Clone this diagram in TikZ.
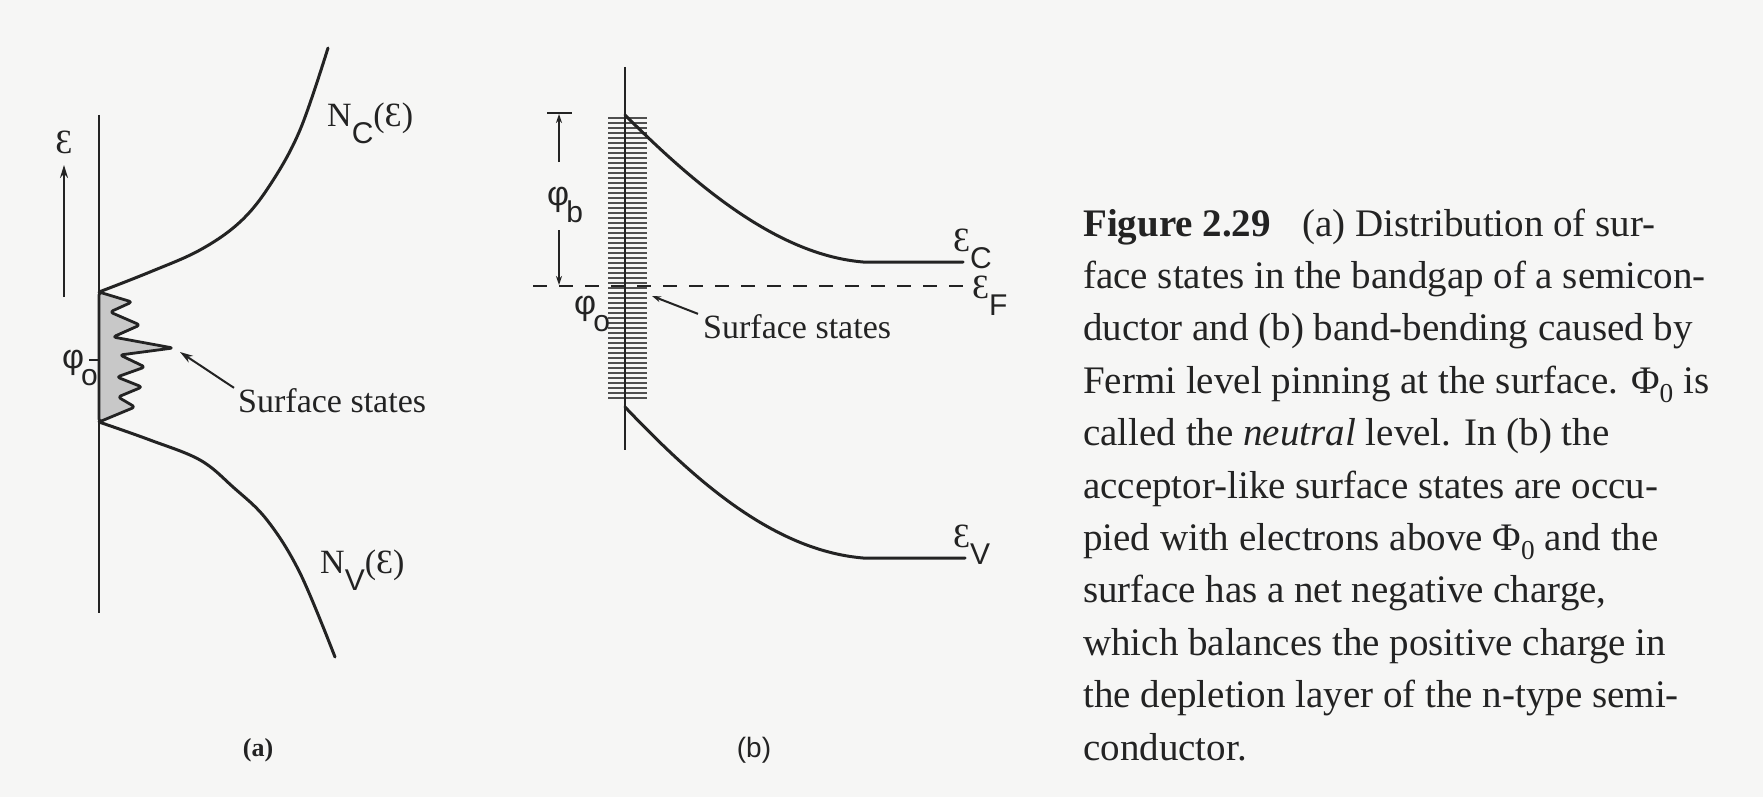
\documentclass[tikz,border=0pt]{standalone}
\usepackage{fontspec}
\setmainfont{Liberation Serif}
\newfontfamily\sansf{Liberation Sans}
\usetikzlibrary{arrows.meta}
\definecolor{paper}{RGB}{246,246,245}
\definecolor{ink}{RGB}{35,35,35}
\definecolor{stipple}{RGB}{200,200,200}
\newcommand\lowsub[1]{\raisebox{-17pt}{\sansf\fontsize{30}{32}\selectfont #1}}
\begin{document}
\begin{tikzpicture}[x=1pt,y=-1pt,
  curve/.style={draw=ink, line width=3pt, line cap=round, line join=round},
  axisline/.style={draw=ink, line width=2.6pt},
  thinline/.style={draw=ink, line width=2pt},
  lbl/.style={inner sep=0pt, text=ink, font=\fontsize{34}{40}\selectfont},
  captxt/.style={inner sep=0pt, anchor=base west, text=ink, font=\fontsize{39}{51.5}\selectfont},
  hatch/.style={draw=ink!80, line width=1.8pt},
  arr/.style={ink, line width=2pt, -{Stealth[length=13pt,width=8pt]}},
  sarr/.style={ink, line width=2pt, -{Stealth[length=9pt,width=6pt]}}]
\fill[paper] (0,0) rectangle (1763,797);
\useasboundingbox (0,0) rectangle (1763,797);

% ---------------- panel (a) ----------------
\coordinate (aTop) at (99,115);
\coordinate (aBot) at (99,613);
\coordinate (eS) at (64,297);
\coordinate (eE) at (64,165);
\coordinate (ssTop) at (99,292);
\coordinate (ssBot) at (99,422);
\coordinate (ssAtip) at (180,352);
\coordinate (tickL) at (89,360);
\coordinate (tickR) at (99,360);

\path[curve, line width=2.8pt, fill=stipple, rounded corners=3pt] (ssTop) -- (132,302) -- (110,312) -- (140,325) -- (113,337) -- (173,348) -- (120,355) -- (145,367) -- (117,377) -- (142,387) -- (118,397) -- (135,407) -- (ssBot) -- cycle;
\draw[axisline] (aTop) -- (aBot);
\draw[arr] (eS) -- (eE);
\draw[thinline] (tickL) -- (tickR);

\draw[curve] plot[smooth, tension=0.6] coordinates {(99,292) (150,272) (200,250) (240,222) (270,185) (300,130) (328,48)};
\draw[curve] plot[smooth, tension=0.6] coordinates {(99,422) (150,440) (200,460) (233,487) (267,520) (300,573) (335,657)};

\node[lbl] (epsA) at (64,142) {Ɛ};
\node[lbl, anchor=base west] (nc) at (327,127) {N\lowsub{C}(Ɛ)};
\node[lbl, anchor=base west] (nv) at (320,573) {N\lowsub{V}(Ɛ)};
\node[lbl, anchor=base west] (phi0a) at (62,368) {\sansf φ\kern-3pt\lowsub{o}};
\node[lbl, anchor=base west] (ssA) at (238,412) {Surface states};
\draw[arr] ([xshift=-4pt]ssA.north west) -- (ssAtip);
\node[inner sep=0pt, text=ink, font=\bfseries\fontsize{26}{30}\selectfont] (la) at (258,750) {(a)};

% ---------------- panel (b) ----------------
\coordinate (bTop) at (625,67);
\coordinate (bBot) at (625,450);
\coordinate (fL) at (533,286);
\coordinate (fR) at (963,286);
\coordinate (barL) at (547,113);
\coordinate (barR) at (572,113);
\coordinate (upS) at (559,162);
\coordinate (upE) at (559,114);
\coordinate (dnS) at (559,230);
\coordinate (dnE) at (559,285);
\coordinate (ssBtip) at (652,296);

\foreach \y in {118,123,...,398} \draw[hatch] (608,\y) -- (647,\y);
\draw[axisline] (bTop) -- (bBot);
\draw[curve] (625,115) .. controls (700,190) and (780,255) .. (863,262) -- (963,262);
\draw[curve] (625,407) .. controls (690,475) and (770,550) .. (863,558) -- (965,558);
\draw[thinline, dash pattern=on 14pt off 12pt] (fL) -- (fR);
\draw[thinline] (barL) -- (barR);
\draw[sarr] (upS) -- (upE);
\draw[sarr] (dnS) -- (dnE);

\node[lbl, anchor=base west] (phib) at (547,205) {\sansf φ\kern-3pt\lowsub{b}};
\node[lbl, anchor=base west] (phi0b) at (574,314) {\sansf φ\kern-3pt\lowsub{o}};
\node[lbl, anchor=base west] (ec) at (953,251) {Ɛ\lowsub{C}};
\node[lbl, anchor=base west] (ef) at (972,298) {Ɛ\lowsub{F}};
\node[lbl, anchor=base west] (ev) at (953,547) {Ɛ\lowsub{V}};
\node[lbl, anchor=base west] (ssB) at (703,338) {Surface states};
\draw[sarr] ([xshift=-5pt]ssB.north west) -- (ssBtip);
\node[inner sep=0pt, text=ink, font=\sansf\fontsize{28}{30}\selectfont] (lb) at (754,750) {(b)};

% ---------------- caption ----------------
\node[captxt] (c1) at (1083,236) {{\bfseries Figure 2.29}\hspace{0.8em}(a) Distribution of sur-};
\node[captxt] (c2) at (1083,288.4) {face states in the bandgap of a semicon-};
\node[captxt] (c3) at (1083,340.8) {ductor and (b) band-bending caused by};
\node[captxt] (c4) at (1083,393.2) {Fermi level pinning at the surface. Φ\textsubscript{0} is};
\node[captxt] (c5) at (1083,445.6) {called the \textit{neutral} level. In (b) the};
\node[captxt] (c6) at (1083,498) {acceptor-like surface states are occu-};
\node[captxt] (c7) at (1083,550.4) {pied with electrons above Φ\textsubscript{0} and the};
\node[captxt] (c8) at (1083,602.8) {surface has a net negative charge,};
\node[captxt] (c9) at (1083,655.2) {which balances the positive charge in};
\node[captxt] (c10) at (1083,707.6) {the depletion layer of the n-type semi-};
\node[captxt] (c11) at (1083,760) {conductor.};
\end{tikzpicture}
\end{document}
